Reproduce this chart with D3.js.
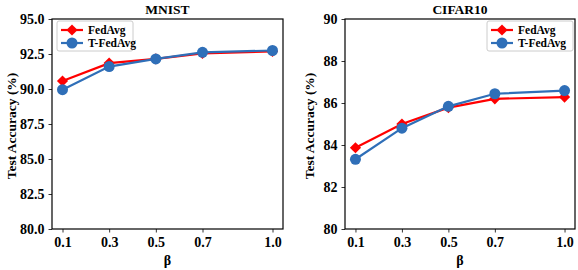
<!DOCTYPE html>
<html>
<head>
<meta charset="utf-8">
<script src="https://cdn.jsdelivr.net/npm/d3@7"></script>
<style>
  body { margin: 0; background: #fff; }
  svg text { font-family: "Liberation Serif", "Times New Roman", serif !important; font-weight: bold; fill: #000; }
</style>
</head>
<body>
<svg id="mainsvg" width="578" height="270"></svg>
<script>
// data
const betas = [0.1, 0.3, 0.5, 0.7, 1.0]
const betaLabels = ['0.1', '0.3', '0.5', '0.7', '1.0']
const mnistFedAvg = [90.57, 91.85, 92.15, 92.55, 92.68]
const mnistTFedAvg = [89.95, 91.6, 92.15, 92.62, 92.75]
const cifarFedAvg = [83.87, 85.0, 85.78, 86.2, 86.28]
const cifarTFedAvg = [83.32, 84.8, 85.84, 86.44, 86.59]
const mnistTicks = [80, 82.5, 85, 87.5, 90, 92.5, 95]
const cifarTicks = [80, 82, 84, 86, 88, 90]
const seriesNames = ['FedAvg', 'T-FedAvg']

const red = '#ff0000'
const blue = '#2f6fb8'

const svg = d3.select('#mainsvg')

function panel(opt) {
    const x = d3.scaleLinear().domain([0.055, 1.045]).range([opt.left, opt.right])
    const y = d3.scaleLinear().domain(opt.ydom).range([229, 19])
    const g = svg.append('g')

    // axes
    const xa = g.append('g')
        .attr('transform', 'translate(0,229)')
        .call(d3.axisBottom(x).tickValues(betas).tickFormat((d, i) => betaLabels[i]).tickSize(3.5).tickPadding(5))
    const ya = g.append('g')
        .attr('transform', `translate(${opt.left},0)`)
        .call(d3.axisLeft(y).tickValues(opt.ticks).tickFormat(opt.fmt).tickSize(3.5).tickPadding(4))
    xa.attr('font-family', null); ya.attr('font-family', null)
    g.selectAll('.domain').remove()
    g.selectAll('.tick line').attr('stroke', '#000').attr('stroke-width', 0.8)
    g.selectAll('.tick text').style('font-size', '14px')

    // frame
    g.append('rect')
        .attr('x', opt.left).attr('y', 19)
        .attr('width', opt.right - opt.left).attr('height', 210)
        .attr('fill', 'none').attr('stroke', '#000').attr('stroke-width', 1.2)

    const line = d3.line().x((d, i) => x(betas[i])).y(d => y(d))
    const series = [
        {vals: opt.a, color: red, shape: 'diamond'},
        {vals: opt.b, color: blue, shape: 'circle'}
    ]
    series.forEach(s => {
        g.append('path').datum(s.vals)
            .attr('d', line)
            .attr('fill', 'none').attr('stroke', s.color).attr('stroke-width', 2.2)
        if (s.shape === 'diamond') {
            g.selectAll(null).data(s.vals).join('path')
                .attr('d', d3.symbol(d3.symbolDiamond2, 80))
                .attr('transform', (d, i) => `translate(${x(betas[i])},${y(d)})`)
                .attr('fill', s.color)
        } else {
            g.selectAll(null).data(s.vals).join('circle')
                .attr('cx', (d, i) => x(betas[i])).attr('cy', d => y(d))
                .attr('r', 5.5).attr('fill', s.color)
        }
    })

    // titles
    g.append('text')
        .attr('x', (opt.left + opt.right) / 2).attr('y', 14)
        .attr('text-anchor', 'middle').style('font-size', '13.5px')
        .text(opt.title)
    g.append('text')
        .attr('x', (opt.left + opt.right) / 2).attr('y', 265)
        .attr('text-anchor', 'middle').style('font-size', '14px')
        .text('β')
    g.append('text')
        .attr('transform', `translate(${opt.ylx},126) rotate(-90)`)
        .attr('text-anchor', 'middle').style('font-size', '13.5px')
        .text('Test Accuracy (%)')

    // legend
    const lg = g.append('g').attr('transform', `translate(${opt.legX},21)`)
    lg.append('rect')
        .attr('width', opt.legW).attr('height', 30).attr('rx', 2)
        .attr('fill', '#fff').attr('stroke', '#ccc').attr('stroke-width', 1)
    seriesNames.forEach((name, i) => {
        const yy = 9 + i * 13
        lg.append('line')
            .attr('x1', 4).attr('x2', 26).attr('y1', yy).attr('y2', yy)
            .attr('stroke', series[i].color).attr('stroke-width', 2.2)
        if (i === 0) {
            lg.append('path')
                .attr('d', d3.symbol(d3.symbolDiamond2, 80))
                .attr('transform', `translate(15,${yy})`)
                .attr('fill', red)
        } else {
            lg.append('circle').attr('cx', 15).attr('cy', yy).attr('r', 5.5).attr('fill', blue)
        }
        lg.append('text')
            .attr('x', 31).attr('y', yy + 4)
            .style('font-size', '11.5px')
            .text(name)
    })
}

panel({left: 52, right: 283, ydom: [80, 95], ticks: mnistTicks, fmt: d3.format('.1f'),
    a: mnistFedAvg, b: mnistTFedAvg, title: 'MNIST', ylx: 16, legX: 57, legW: 76})
panel({left: 345, right: 575, ydom: [80, 90], ticks: cifarTicks, fmt: d3.format('d'),
    a: cifarFedAvg, b: cifarTFedAvg, title: 'CIFAR10', ylx: 314, legX: 487, legW: 86})
</script>
</body>
</html>
